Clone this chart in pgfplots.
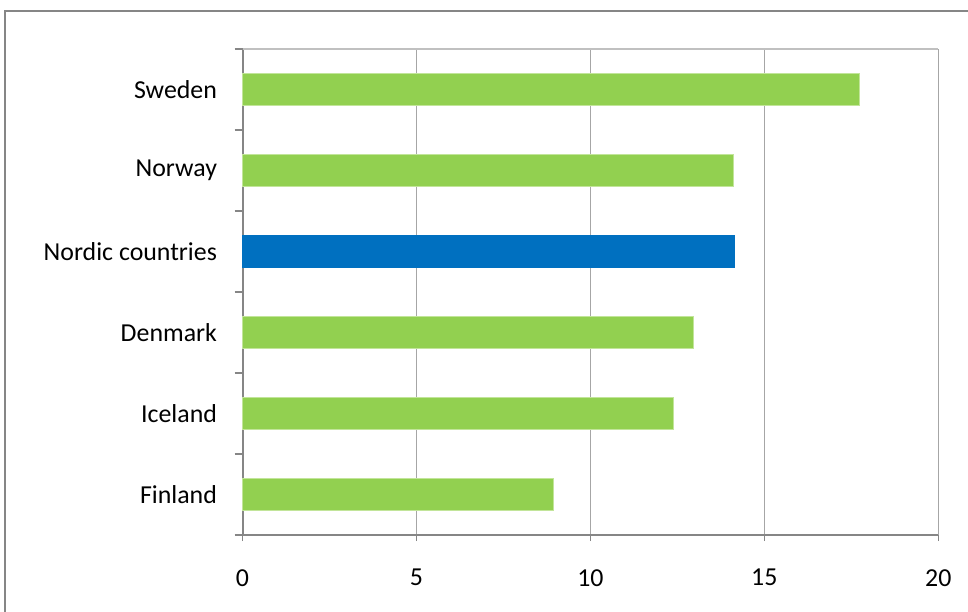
\documentclass[border=0pt]{standalone}
\usepackage{pgfplots}
\pgfplotsset{compat=1.18}
\usepackage{fontspec}
\setmainfont{Carlito}

\definecolor{barGreen}{HTML}{92D050}
\definecolor{barEdge}{HTML}{C2E59A}
\definecolor{barBlue}{HTML}{0070C0}
\definecolor{axisgray}{HTML}{868686}
\definecolor{gridgray}{HTML}{A6A6A6}
\definecolor{gridlight}{HTML}{C0C0C0}

\begin{document}
\begin{tikzpicture}
\useasboundingbox (0,0) rectangle (726pt,458.25pt);
% chart area frame (only top and left edges fall inside the picture)
\draw[axisgray, line width=1.1pt] (3.75pt,-5pt) -- (3.75pt,450pt) -- (735pt,450pt);

\begin{axis}[
  at={(181.9pt,57pt)}, anchor=south west,
  scale only axis,
  width=521.8pt, height=364.5pt,
  xbar, bar shift=0pt, bar width=24pt,
  xmin=0, xmax=20,
  ymin=-0.5, ymax=5.5,
  xtick={0,5,...,20},
  ytick={0,...,5},
  yticklabels={Finland,Iceland,Denmark,Nordic countries,Norway,Sweden},
  minor ytick={-0.5,0.5,...,5.5},
  axis lines=left,
  axis line style={-, draw=axisgray, line width=1.5pt},
  tick align=outside,
  major tick length=4.5pt,
  minor tick length=6pt,
  major x tick style={draw=axisgray, line width=1.1pt},
  major y tick style={draw=none},
  minor y tick style={draw=axisgray, line width=1.1pt},
  xmajorgrids=true,
  major grid style={gridgray, line width=1.1pt},
  tick label style={font=\fontsize{19.4pt}{23pt}\selectfont, text=black},
  /pgf/number format/assume math mode=true,
  y tick label style={inner sep=0pt, xshift=-14.5pt},
  x tick label style={inner sep=0pt, anchor=north, yshift=-21pt},
  clip=false,
]
% top edge of the plot area
\draw[gridlight, line width=1.1pt] (axis cs:0,5.5) -- (axis cs:20,5.5);
% green bars: Finland, Iceland, Denmark, Norway, Sweden
\addplot[fill=barGreen, draw=barEdge, line width=0.75pt] coordinates {
  (8.94,0) (12.40,1) (12.96,2) (14.10,4) (17.74,5)
};
% blue bar: Nordic countries
\addplot[fill=barBlue, draw=barBlue, line width=0.5pt] coordinates {
  (14.13,3)
};
\end{axis}
\end{tikzpicture}
\end{document}
